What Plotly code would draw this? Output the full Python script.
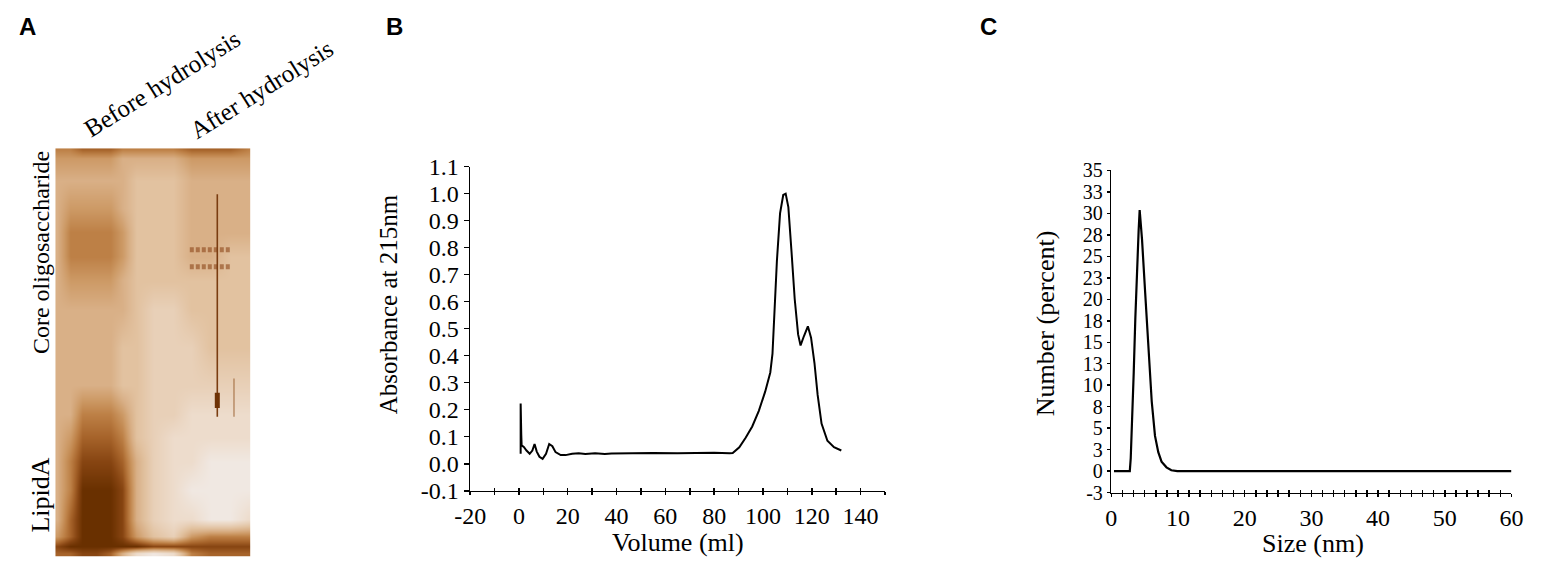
import plotly.graph_objects as go

W, H = 1548, 570

# ---- panel B: gel filtration profile ----
b_volume = [0.7, 0.7, 0.85, 0.95, 1.1, 2.0, 3.1, 4.4, 5.5, 6.4, 7.3, 8.4, 9.7,
            11.1, 12.4, 13.7, 15.0, 17.1, 19.1, 21.8, 24.5, 27.2, 31.2, 35.2,
            37.9, 45, 55, 65, 75, 80, 86.3, 87.6, 90.3, 92.9, 95.6, 98.3,
            100.9, 103.0, 103.9, 104.6, 105.7, 107.0, 108.3, 109.3, 110.4,
            111.7, 113.0, 114.4, 115.4, 116.8, 118.4, 119.7, 121.1, 122.4,
            124.0, 126.4, 129.1, 132.1]
b_absorb = [0.037, 0.223, 0.07, 0.108, 0.068, 0.062, 0.049, 0.037, 0.049,
            0.073, 0.045, 0.026, 0.018, 0.037, 0.073, 0.065, 0.043, 0.032,
            0.032, 0.037, 0.039, 0.036, 0.039, 0.036, 0.038, 0.039, 0.040,
            0.039, 0.042, 0.041, 0.039, 0.040, 0.061, 0.096, 0.138, 0.196,
            0.267, 0.338, 0.408, 0.55, 0.75, 0.927, 0.995, 1.0, 0.95, 0.785,
            0.61, 0.479, 0.438, 0.473, 0.509, 0.467, 0.373, 0.255, 0.149,
            0.085, 0.061, 0.049]
b_xticks = [-20, 0, 20, 40, 60, 80, 100, 120, 140]
b_xtext = ['-20', '0', '20', '40', '60', '80', '100', '120', '140']
b_yticks = [-0.1, 0.0, 0.1, 0.2, 0.3, 0.4, 0.5, 0.6, 0.7, 0.8, 0.9, 1.0, 1.1]
b_ytext = ['-0.1', '0.0', '0.1', '0.2', '0.3', '0.4', '0.5', '0.6', '0.7',
           '0.8', '0.9', '1.0', '1.1']

# ---- panel C: size distribution ----
c_size = [0.4, 2.77, 2.91, 3.11, 3.36, 3.6, 3.85, 4.1, 4.25, 4.6, 5.08, 5.57,
          6.06, 6.55, 7.04, 7.53, 8.27, 9.0, 9.9, 20, 30, 40, 50, 60]
c_number = [0, 0, 1.5, 5.2, 11.5, 17.8, 23.7, 28.1, 30.4, 27.0, 20.7, 14.1,
            8.1, 4.1, 2.2, 1.1, 0.44, 0.1, 0, 0, 0, 0, 0, 0]
c_xticks = [0, 10, 20, 30, 40, 50, 60]
c_yticks = [-2.5, 0, 2.5, 5, 7.5, 10, 12.5, 15, 17.5, 20, 22.5, 25, 27.5, 30,
            32.5, 35]
c_ytext = ['-3', '0', '3', '5', '8', '10', '13', '15', '18', '20', '23', '25',
           '28', '30', '33', '35']

# ---- panel A: gel photo, stain darkness 0 (clear) .. 9 (dark) ----
gel_cols = [42, 55, 68, 82, 96, 108, 122, 140, 160, 178, 198, 218, 237]
gel_rows = [143, 152, 175, 205, 230, 255, 280, 310, 350, 390, 420, 445, 470,
            500, 530, 548, 559, 566]
gel_stain = ["6677766667776",
             "5555544445555",
             "4444443334444",
             "4555543334444",
             "4666653334444",
             "4666653334433",
             "4555543333333",
             "4444443223333",
             "4444433222333",
             "4444433222222",
             "4466653221111",
             "4577763211111",
             "4688874211000",
             "4699984210000",
             "4799984211001",
             "5799985325666",
             "8999999888888",
             "7788741016777"]
band_y = [248, 266]
band_x = [177, 218]
streak_x = [205, 205]
streak_y = [190, 423]
spot_y = [398, 414]
faint_x = [222, 222]
faint_y = [383, 423]

stain_scale = [[0.0, '#f0e8e2'], [1 / 9, '#eddccc'], [2 / 9, '#e8d0b8'],
               [3 / 9, '#e2c2a0'], [4 / 9, '#d9b087'], [5 / 9, '#cd9a66'],
               [6 / 9, '#bd8046'], [7 / 9, '#a6632a'], [8 / 9, '#874512'],
               [1.0, '#693000']]

SERIF = 'Liberation Serif'


def px(x):
    return x / W


def py(y):
    return (H - y) / H


fig = go.Figure()

# gel
fig.add_trace(go.Heatmap(
    x=gel_cols, y=gel_rows,
    z=[[int(c) for c in row] for row in gel_stain],
    colorscale=stain_scale, zmin=0, zmax=9, zsmooth='best',
    showscale=False, hoverinfo='skip', xaxis='x3', yaxis='y3'))
for by in band_y:
    fig.add_trace(go.Scatter(x=band_x, y=[by, by], mode='lines',
                             line=dict(color='rgba(140,70,25,0.6)', width=5,
                                       dash='4px,2px'),
                             hoverinfo='skip', xaxis='x3', yaxis='y3'))
fig.add_trace(go.Scatter(x=streak_x, y=streak_y, mode='lines',
                         line=dict(color='#7a3c10', width=1.6),
                         hoverinfo='skip', xaxis='x3', yaxis='y3'))
fig.add_trace(go.Scatter(x=streak_x, y=spot_y, mode='lines',
                         line=dict(color='#6e3205', width=5),
                         hoverinfo='skip', xaxis='x3', yaxis='y3'))
fig.add_trace(go.Scatter(x=faint_x, y=faint_y, mode='lines',
                         line=dict(color='rgba(150,90,40,0.6)', width=1.5),
                         hoverinfo='skip', xaxis='x3', yaxis='y3'))

# B
fig.add_trace(go.Scatter(x=b_volume, y=b_absorb, mode='lines',
                         line=dict(color='black', width=2),
                         hoverinfo='skip', xaxis='x', yaxis='y'))
fig.add_trace(go.Scatter(x=b_volume, y=b_absorb, mode='lines',
                         line=dict(color='rgba(0,0,0,0)', width=0),
                         hoverinfo='skip', xaxis='x4', yaxis='y'))
# C
fig.add_trace(go.Scatter(x=c_size, y=c_number, mode='lines',
                         line=dict(color='black', width=2.2),
                         hoverinfo='skip', xaxis='x2', yaxis='y2'))
fig.add_trace(go.Scatter(x=c_size, y=c_number, mode='lines',
                         line=dict(color='rgba(0,0,0,0)', width=0),
                         hoverinfo='skip', xaxis='x5', yaxis='y2'))

axis_common = dict(showline=True, linecolor='black', linewidth=1.5,
                   showgrid=False, zeroline=False, tickcolor='black',
                   tickwidth=1.5, tickfont=dict(family=SERIF, size=24,
                                                color='black'))

b_dom_x = [px(462.5), px(885)]
b_dom_y = [py(500.6), py(161)]
c_dom_x = [px(1115.5), px(1523)]
c_dom_y = [py(502.5), py(165)]

fig.update_layout(
    width=W, height=H, margin=dict(l=0, r=0, t=0, b=0),
    paper_bgcolor='white', plot_bgcolor='white', showlegend=False,
    hovermode=False,
    xaxis=dict(axis_common, domain=b_dom_x, range=[-20, 150], anchor='y',
               tickmode='array', tickvals=b_xticks, ticktext=b_xtext,
               ticks='outside', ticklen=3,
               minor=dict(tickmode='linear', tick0=-20, dtick=10,
                          ticks='outside', ticklen=3, tickwidth=1.5,
                          tickcolor='black')),
    xaxis4=dict(overlaying='x', range=[-20, 150], anchor='y',
                showline=False, showgrid=False, zeroline=False,
                showticklabels=False, tickmode='linear', tick0=-20, dtick=10,
                ticks='inside', ticklen=3, tickwidth=1.5, tickcolor='black'),
    yaxis=dict(axis_common, domain=b_dom_y, range=[-0.1, 1.1], anchor='x',
               tickmode='array', tickvals=b_yticks, ticktext=b_ytext,
               ticks='outside', ticklen=5),
    xaxis2=dict(axis_common, domain=c_dom_x, range=[0, 60], anchor='y2',
                tickmode='array', tickvals=c_xticks,
                ticks='outside', ticklen=3,
                tickfont=dict(family=SERIF, size=24, color='black'),
                minor=dict(tickmode='linear', tick0=0, dtick=10 / 6,
                           ticks='outside', ticklen=3, tickwidth=1.5,
                           tickcolor='black')),
    xaxis5=dict(overlaying='x2', range=[0, 60], anchor='y2',
                showline=False, showgrid=False, zeroline=False,
                showticklabels=False, tickmode='linear', tick0=0,
                dtick=10 / 6, ticks='inside', ticklen=3, tickwidth=1.5,
                tickcolor='black'),
    yaxis2=dict(axis_common, domain=c_dom_y, range=[-2.5, 35], anchor='x2',
                tickmode='array', tickvals=c_yticks, ticktext=c_ytext,
                ticks='outside', ticklen=3,
                tickfont=dict(family=SERIF, size=20, color='black')),
    xaxis3=dict(domain=[px(40), px(239)], range=[40, 239], visible=False,
                anchor='y3'),
    yaxis3=dict(domain=[0, py(141.7)], range=[570, 141.7], visible=False,
                anchor='x3'),
)

notes = [
    dict(text='<b>A</b>', x=px(12), y=py(14)),
    dict(text='<b>B</b>', x=px(385), y=py(14)),
    dict(text='<b>C</b>', x=px(990), y=py(14)),
]
for n in notes:
    fig.add_annotation(xref='paper', yref='paper', showarrow=False,
                       xanchor='center', yanchor='middle',
                       font=dict(family='Liberation Sans', size=24,
                                 color='black'), **n)

labels = [
    dict(text='Before hydrolysis', x=px(149), y=py(74), textangle=-32, size=25),
    dict(text='After hydrolysis', x=px(250), y=py(80), textangle=-32, size=25),
    dict(text='Core oligosaccharide', x=px(25), y=py(251), textangle=-90,
         size=24),
    dict(text='LipidA', x=px(25), y=py(505), textangle=-90, size=26),
    dict(text='Volume (ml)', x=px(674), y=py(555), textangle=0, size=26),
    dict(text='Absorbance at 215nm', x=px(379), y=py(305), textangle=-90,
         size=25),
    dict(text='Size (nm)', x=px(1321), y=py(556), textangle=0, size=26),
    dict(text='Number (percent)', x=px(1048), y=py(325), textangle=-90,
         size=26),
]
for lb in labels:
    fig.add_annotation(xref='paper', yref='paper', showarrow=False,
                       xanchor='center', yanchor='middle',
                       text=lb['text'], x=lb['x'], y=lb['y'],
                       textangle=lb['textangle'],
                       font=dict(family=SERIF, size=lb['size'],
                                 color='black'))

# drop the page's default spacing so the figure sits at the window origin
page_reset = ("document.documentElement.style.margin='0';"
              "document.documentElement.style.padding='0';"
              "document.body.style.margin='0';"
              "document.body.style.padding='0';"
              "document.body.style.overflow='hidden';")

fig.write_html("out.html", post_script=page_reset,
               config={'displayModeBar': False, 'staticPlot': True})
